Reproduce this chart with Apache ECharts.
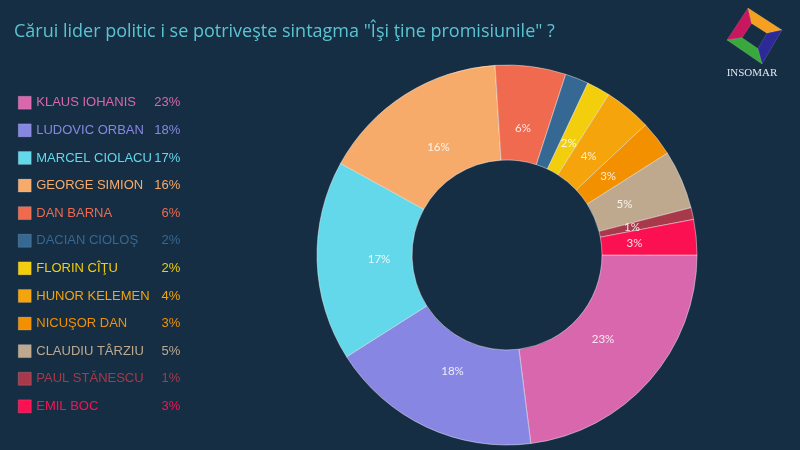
<!DOCTYPE html>
<html>
<head>
<meta charset="utf-8">
<script src="https://cdn.jsdelivr.net/npm/echarts@6/dist/echarts.min.js"></script>
<style>
html,body{margin:0;padding:0;background:#162e43;}
#chart{width:800px;height:450px;}
</style>
</head>
<body>
<div id="chart"></div>
<script>
const titleText = 'Cărui lider politic i se potriveşte sintagma "Îşi ţine promisiunile" ?';
const names = ['KLAUS IOHANIS','LUDOVIC ORBAN','MARCEL CIOLACU','GEORGE SIMION','DAN BARNA','DACIAN CIOLOŞ','FLORIN CÎŢU','HUNOR KELEMEN','NICUŞOR DAN','CLAUDIU TÂRZIU','PAUL STĂNESCU','EMIL BOC'];
const values = [23,18,17,16,6,2,2,4,3,5,1,3];
const colors = ['#d967ad','#8787e3','#62d8ea','#f7ab6b','#f06a4f','#356892','#f2ce0c','#f5a40c','#f39000','#bfa98e','#a8394a','#fb1152'];

const chart = echarts.init(document.getElementById('chart'));

const pieData = names.map((n,i)=>({name:n,value:values[i],itemStyle:{color:colors[i]}}));
const labelData = names.map((n,i)=>({name:n,value:values[i],itemStyle:{color:'rgba(0,0,0,0)'}}));

const rich = {};
names.forEach((n,i)=>{
  rich['n'+i] = {color:colors[i], width:117, fontSize:13, fontFamily:'Liberation Sans, Arial, sans-serif'};
  rich['v'+i] = {color:colors[i], width:27, align:'right', fontSize:13, fontFamily:'Liberation Sans, Arial, sans-serif'};
});

// logo geometry
const cx = 754.5, cy = 36;
const outer = {T:[748,8], R:[782,30], B:[762,64], L:[727,40]};
const k = 0.45;
const inner = {};
Object.keys(outer).forEach(key=>{
  inner[key] = [cx + k*(outer[key][0]-cx), cy + k*(outer[key][1]-cy)];
});
const logoParts = [
  {a:'L',b:'T',c:'#c8175f'},
  {a:'T',b:'R',c:'#f5a020'},
  {a:'R',b:'B',c:'#2b2a98'},
  {a:'B',b:'L',c:'#3aa83c'}
].map(p=>({
  type:'polygon',
  shape:{points:[outer[p.a],outer[p.b],inner[p.b],inner[p.a]]},
  style:{fill:p.c, stroke:'rgba(255,255,255,0.25)', lineWidth:0.5}
}));

chart.setOption({
  backgroundColor:'#162e43',
  title:{
    text:titleText,
    left:14, top:23, padding:0,
    textStyle:{color:'#5bc4d2', fontSize:18, fontWeight:'normal', fontFamily:'Open Sans, sans-serif'}
  },
  legend:{
    orient:'vertical',
    left:18, top:96, padding:0,
    itemWidth:13, itemHeight:13, itemGap:14.1,
    icon:'rect',
    data:names,
    formatter:function(name){
      const i = names.indexOf(name);
      return '{n'+i+'|'+name+'}{v'+i+'|'+values[i]+'%}';
    },
    textStyle:{rich:rich, fontSize:13},
    itemStyle:{borderColor:'rgba(255,255,255,0.3)', borderWidth:0.5},
    selectedMode:false
  },
  graphic: logoParts.concat([{
    type:'text',
    x:752, y:73,
    style:{text:'INSOMAR', fill:'#dfe6ee', font:'11px "Liberation Serif", serif', align:'center', verticalAlign:'middle'}
  }]),
  series:[
    {
      type:'pie',
      center:[507,255],
      radius:[95,190],
      startAngle:0,
      clockwise:true,
      avoidLabelOverlap:false,
      label:{show:false},
      labelLine:{show:false},
      itemStyle:{borderColor:'rgba(255,255,255,0.55)', borderWidth:0.8},
      emphasis:{disabled:true},
      data:pieData
    },
    {
      type:'pie',
      center:[507,255],
      radius:[95,155],
      startAngle:0,
      clockwise:true,
      silent:true,
      avoidLabelOverlap:false,
      minShowLabelAngle:0,
      label:{show:true, position:'inside', formatter:'{c}%', color:'rgba(255,255,255,0.85)', fontSize:11.5, fontFamily:'Lato, sans-serif'},
      labelLine:{show:false},
      itemStyle:{borderWidth:0},
      emphasis:{disabled:true},
      data:labelData
    }
  ]
});
</script>
</body>
</html>
